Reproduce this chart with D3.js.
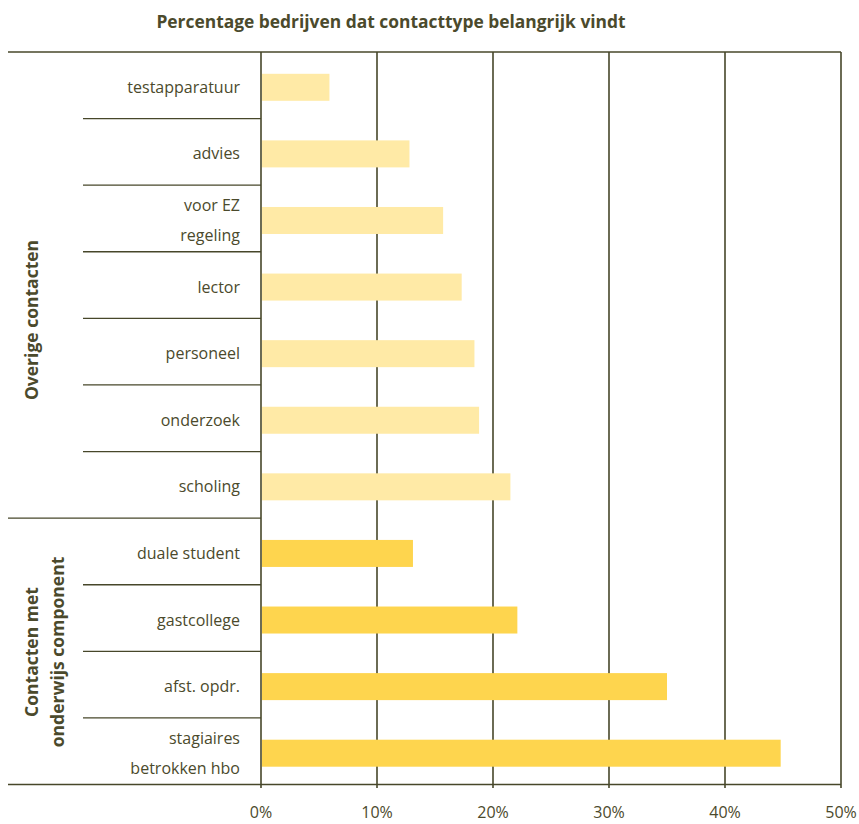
<!DOCTYPE html>
<html>
<head>
<meta charset="utf-8">
<script src="https://cdn.jsdelivr.net/npm/d3@7"></script>
<style>
  body { margin: 0; background: #fff; }
  text { font-family: "Open Sans", sans-serif; fill: #4b4a2c; }
</style>
</head>
<body>
<div id="chart"></div>
<script>
// categories, top to bottom (multi-line labels split with \n)
const categories = [
    "testapparatuur", "advies", "voor EZ\nregeling", "lector", "personeel",
    "onderzoek", "scholing",
    "duale student", "gastcollege", "afst. opdr.", "stagiaires\nbetrokken hbo"
];
// percentage of companies that find the contact type important
const values = [5.9, 12.8, 15.7, 17.3, 18.4, 18.8, 21.5, 13.1, 22.1, 35.0, 44.8];
// 0 = overige contacten, 1 = contacten met onderwijscomponent
const groupOf = [0, 0, 0, 0, 0, 0, 0, 1, 1, 1, 1];
const groups = [["Overige contacten"], ["Contacten met", "onderwijs component"]];
const ticks = [0, 10, 20, 30, 40, 50];

const title = "Percentage bedrijven dat contacttype belangrijk vindt";

const W = 859, H = 824;
const margin = {top: 52, right: 18, bottom: 40, left: 261};
const lineColor = "#47472a";
const barColors = ["#ffeaa6", "#fed54e"];

const svg = d3.select("#chart")
    .append("svg")
    .attr("width", W)
    .attr("height", H);

const x = d3.scaleLinear()
    .domain([0, 50])
    .range([margin.left, 841]);

const y = d3.scaleBand()
    .domain(d3.range(categories.length))
    .range([margin.top, 784.5])
    .padding(0);

const barH = 27;

// vertical grid lines (incl. axis at 0 and the 50% line)
svg.append("g")
    .selectAll("line")
    .data(ticks)
    .enter()
    .append("line")
    .attr("x1", d => x(d))
    .attr("x2", d => x(d))
    .attr("y1", margin.top)
    .attr("y2", 788)
    .attr("stroke", lineColor)
    .attr("stroke-width", 1.6);

// top and bottom rules
svg.append("line")
    .attr("x1", 8).attr("x2", x(50))
    .attr("y1", margin.top).attr("y2", margin.top)
    .attr("stroke", lineColor).attr("stroke-width", 1.6);
svg.append("line")
    .attr("x1", 8).attr("x2", x(50))
    .attr("y1", y.range()[1]).attr("y2", y.range()[1])
    .attr("stroke", lineColor).attr("stroke-width", 1.6);

// row separators: short inside a group, long on the group boundary
const seps = d3.range(1, categories.length);
svg.append("g")
    .selectAll("line")
    .data(seps)
    .enter()
    .append("line")
    .attr("x1", i => groupOf[i] !== groupOf[i - 1] ? 8 : 83)
    .attr("x2", x(0))
    .attr("y1", i => y(i))
    .attr("y2", i => y(i))
    .attr("stroke", lineColor)
    .attr("stroke-width", 1.3);

// bars
svg.append("g")
    .selectAll("rect")
    .data(values)
    .enter()
    .append("rect")
    .attr("x", x(0) + 1)
    .attr("y", (d, i) => y(i) + y.bandwidth() / 2 - barH / 2 + 2)
    .attr("width", d => x(d) - x(0) - 1)
    .attr("height", barH)
    .style("fill", (d, i) => barColors[groupOf[i]]);

// category labels
const labels = svg.append("g")
    .selectAll("text")
    .data(categories)
    .enter()
    .append("text")
    .attr("text-anchor", "end")
    .style("font-size", "16px");

labels.each(function (d, i) {
    const parts = d.split("\n");
    const cy = y(i) + y.bandwidth() / 2 + 7.5;
    const off = parts.length > 1 ? -15 : 0;
    parts.forEach((p, k) => {
        d3.select(this).append("tspan")
            .attr("x", 240)
            .attr("y", cy + off + k * 30)
            .text(p);
    });
});

// group labels (rotated)
const groupCenters = [320, 652];
groups.forEach((lines, g) => {
    lines.forEach((t, k) => {
        const gx = lines.length > 1 ? 31 + k * 25.5 : 31;
        svg.append("text")
            .attr("text-anchor", "middle")
            .attr("dominant-baseline", "central")
            .attr("transform", `translate(${gx},${groupCenters[g]}) rotate(-90)`)
            .style("font-size", "17.5px")
            .style("font-weight", "bold")
            .text(t);
    });
});

// x axis labels
svg.append("g")
    .selectAll("text")
    .data(ticks)
    .enter()
    .append("text")
    .attr("x", d => x(d))
    .attr("y", 818)
    .attr("text-anchor", "middle")
    .style("font-size", "16px")
    .text(d => d + "%");

// title
svg.append("text")
    .attr("x", 391)
    .attr("y", 28)
    .attr("text-anchor", "middle")
    .style("font-size", "17.4px")
    .style("font-weight", "bold")
    .text(title);
</script>
</body>
</html>
